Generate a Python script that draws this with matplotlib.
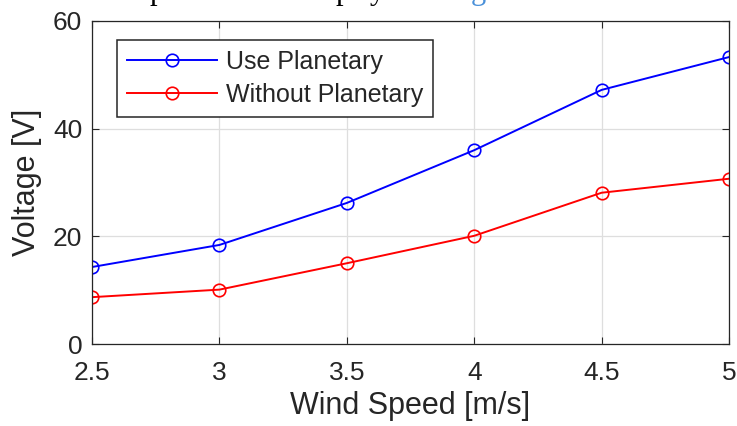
import matplotlib as mpl
import matplotlib.pyplot as plt

DARK = (0.15, 0.15, 0.15)
GRID = (0.87, 0.87, 0.87)

wind_speed = [2.5, 3.0, 3.5, 4.0, 4.5, 5.0]
use_planetary = [14.3, 18.4, 26.2, 36.0, 47.2, 53.3]
without_planetary = [8.7, 10.1, 15.0, 20.1, 28.1, 30.7]
series_labels = ['Use Planetary', 'Without Planetary']
x_ticks = [2.5, 3, 3.5, 4, 4.5, 5]
x_tick_labels = ['2.5', '3', '3.5', '4', '4.5', '5']
y_ticks = [0, 20, 40, 60]

mpl.rcParams.update({
    'font.family': ['Liberation Sans', 'DejaVu Sans'],
    'xtick.direction': 'in',
    'ytick.direction': 'in',
    'xtick.top': True,
    'ytick.right': True,
})

fig = plt.figure(figsize=(7.37, 4.26), dpi=100)
ax = fig.add_axes([92/737, 1 - 344/426, (729 - 92)/737, (344 - 21)/426])

ax.plot(wind_speed, use_planetary, color='blue', lw=1.4, marker='o',
        ms=9, mfc='none', mew=1.2, label=series_labels[0])
ax.plot(wind_speed, without_planetary, color='red', lw=1.4, marker='o',
        ms=9, mfc='none', mew=1.2, label=series_labels[1])

ax.set_xlim(2.5, 5)
ax.set_ylim(0, 60)
ax.set_xticks(x_ticks)
ax.set_xticklabels(x_tick_labels)
ax.set_yticks(y_ticks)
ax.grid(True, color=GRID, lw=0.9)
ax.set_axisbelow(True)

ax.tick_params(axis='both', labelsize=19, colors=DARK, length=5, width=0.8)
ax.tick_params(axis='x', pad=12)
ax.tick_params(axis='y', pad=7)
for spine in ax.spines.values():
    spine.set_edgecolor(DARK)
    spine.set_linewidth(0.9)

ax.set_xlabel('Wind Speed [m/s]', fontsize=22, color=DARK)
ax.set_ylabel('Voltage [V]', fontsize=22, color=DARK)
ax.xaxis.set_label_coords(0.5, (344 - 406) / 323)
ax.xaxis.label.set_va('center')
ax.yaxis.set_label_coords((27 - 92) / 637, 0.5)
ax.yaxis.label.set_va('center')

leg = ax.legend(loc='upper left', bbox_to_anchor=((117 - 92)/637, (344 - 40)/323),
                borderaxespad=0, fontsize=18, handlelength=3.6, handletextpad=0.4,
                labelspacing=0.38, borderpad=0.38, fancybox=False, framealpha=1,
                edgecolor=DARK)
leg.get_frame().set_linewidth(1.1)
for t in leg.get_texts():
    t.set_color(DARK)

# cut-off caption text above the chart (only descenders remain visible)
for xp, ch, col in [(150, 'p', 'black'), (336, 'p', 'black'), (370, 'y', 'black'),
                    (471, 'g', '#4a90d9')]:
    fig.text(xp / 737, 1 + 1 / 426, ch, family='Liberation Serif', fontsize=22,
             color=col, va='baseline', ha='left')

fig.savefig('out.png', dpi=100)
